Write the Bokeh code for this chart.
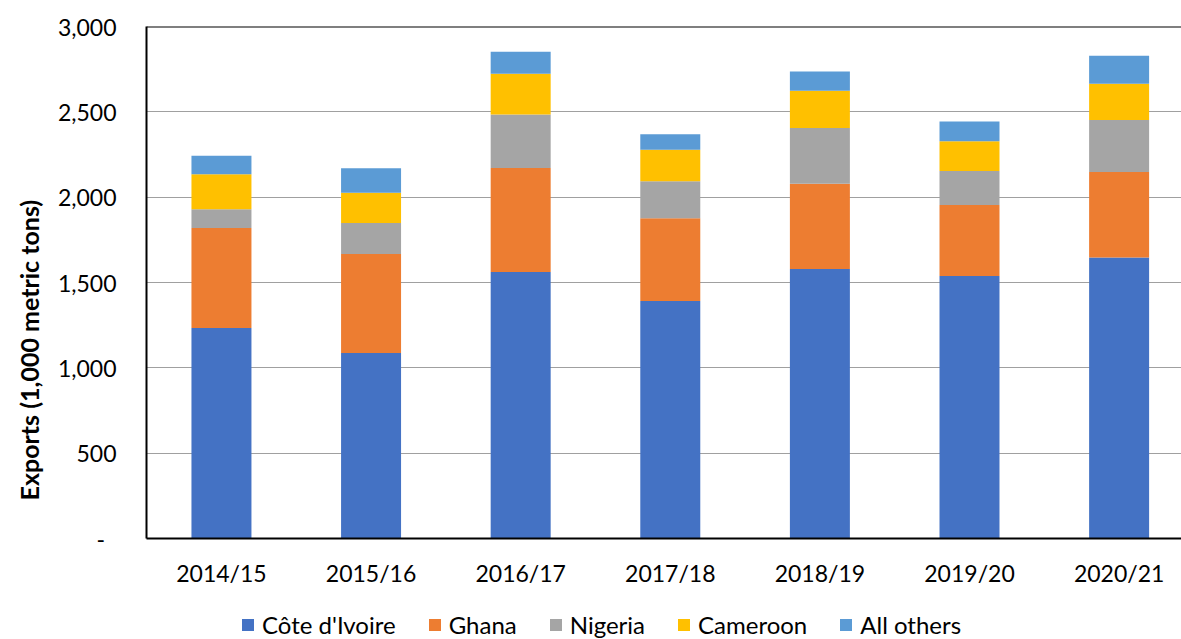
from bokeh.plotting import figure
from bokeh.layouts import column
from bokeh.models import (Range1d, FixedTicker, NumeralTickFormatter, Legend, LegendItem,
                          Title, Span, ColumnDataSource)
from bokeh.embed import file_html
from bokeh.resources import INLINE

seasons = ["2014/15", "2015/16", "2016/17", "2017/18", "2018/19", "2019/20", "2020/21"]
cote = [1233, 1087, 1561, 1391, 1579, 1538, 1646]
ghana = [586, 580, 610, 485, 500, 416, 501]
nigeria = [110, 181, 314, 217, 326, 199, 305]
cameroon = [206, 178, 238, 185, 219, 174, 213]
others = [108, 143, 129, 90, 113, 117, 164]
series_names = ["Côte d'Ivoire", "Ghana", "Nigeria", "Cameroon", "All others"]
colors = ["#4472C4", "#ED7D31", "#A5A5A5", "#FFC000", "#5B9BD5"]
y_ticks = [0, 500, 1000, 1500, 2000, 2500, 3000]

FONT = "Lato"
xs = list(range(len(seasons)))
keys = ["cote", "ghana", "nigeria", "cameroon", "others"]
source = ColumnDataSource(dict(x=xs, cote=cote, ghana=ghana, nigeria=nigeria,
                               cameroon=cameroon, others=others))

p = figure(width=1181, height=600, output_backend="svg", toolbar_location=None,
           x_range=Range1d(-0.501, 6.417), y_range=Range1d(0, 3000),
           min_border_left=146, min_border_right=0, min_border_top=26, min_border_bottom=62)
p.outline_line_color = None
p.background_fill_color = "white"
p.border_fill_color = "white"

rs = p.vbar_stack(keys, x="x", width=0.401, color=colors, line_color=None, source=source)

# axes
p.xaxis.ticker = FixedTicker(ticks=xs)
p.xaxis.major_label_overrides = {i: s for i, s in enumerate(seasons)}
p.xaxis.major_tick_line_color = None
p.xaxis.minor_tick_line_color = None
p.xaxis.axis_line_color = "black"
p.xaxis.axis_line_width = 2
p.xaxis.major_label_standoff = 14
p.xaxis.major_label_text_font = FONT
p.xaxis.major_label_text_font_size = "23px"
p.xaxis.major_label_text_color = "#000000"

p.yaxis.ticker = FixedTicker(ticks=y_ticks)
p.yaxis.formatter = NumeralTickFormatter(format="0,0")
p.yaxis.major_label_overrides = {0: "-\u2002"}
p.yaxis.major_tick_line_color = None
p.yaxis.minor_tick_line_color = None
p.yaxis.major_tick_out = 0
p.yaxis.axis_line_color = "black"
p.yaxis.axis_line_width = 2
p.yaxis.major_label_standoff = 30
p.yaxis.major_label_text_font = FONT
p.yaxis.major_label_text_font_size = "23px"
p.yaxis.major_label_text_color = "#000000"

p.xgrid.grid_line_color = None
p.ygrid.ticker = FixedTicker(ticks=[500, 1000, 1500, 2000, 2500])
p.ygrid.grid_line_color = "#a0a0a0"
p.ygrid.grid_line_width = 1

p.add_layout(Span(location=3000, dimension="width", line_color="black", line_width=2))

ytitle = Title(text="Exports (1,000 metric tons)", align="left", offset=38, standoff=22,
               text_font=FONT, text_font_style="bold", text_font_size="25px",
               text_line_height=0.9, text_color="#000000")
p.add_layout(ytitle, "left")

# legend in its own strip below the chart
lg = figure(width=1181, height=39, output_backend="svg", toolbar_location=None,
            x_range=Range1d(0, 1), y_range=Range1d(0, 1),
            x_axis_type=None, y_axis_type=None,
            min_border_left=0, min_border_right=0, min_border_top=0, min_border_bottom=0)
lg.outline_line_color = None
lg.grid.visible = False
items = []
for name, col in zip(series_names, colors):
    r = lg.vbar(x=[0.5], top=[0], bottom=[0], width=0.0, color=col, line_color=None)
    items.append(LegendItem(label=name, renderers=[r]))
legend = Legend(items=items, orientation="horizontal", location=(94, 0),
                label_text_font=FONT, label_text_font_size="24px", label_text_color="#000000",
                glyph_width=15, glyph_height=15, label_standoff=7, spacing=31,
                padding=0, margin=0, border_line_color=None, background_fill_alpha=0)
lg.add_layout(legend)

open("out.html", "w").write(file_html(column(p, lg, spacing=0), INLINE))
